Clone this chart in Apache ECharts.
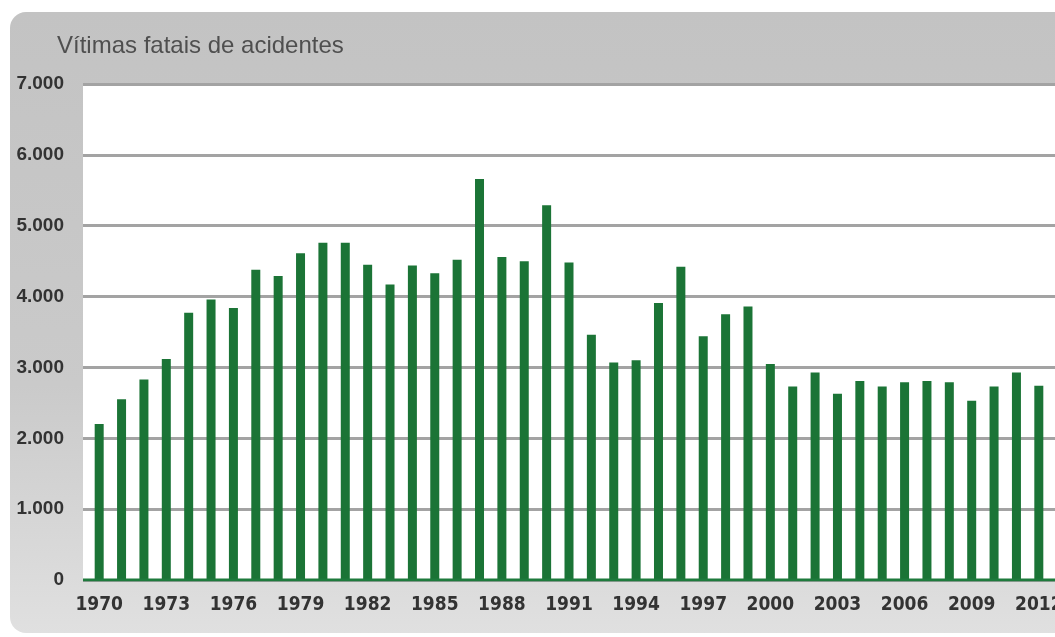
<!DOCTYPE html>
<html>
<head>
<meta charset="utf-8">
<script src="https://cdn.jsdelivr.net/npm/echarts@6/dist/echarts.min.js"></script>
<style>
html,body{margin:0;padding:0;background:#fff;}
#chart{width:1055px;height:637px;}
</style>
</head>
<body>
<div id="chart"></div>
<script>
const titleText = 'Vítimas fatais de acidentes';
const years = ['1970','1971','1972','1973','1974','1975','1976','1977','1978','1979',
  '1980','1981','1982','1983','1984','1985','1986','1987','1988','1989',
  '1990','1991','1992','1993','1994','1995','1996','1997','1998','1999',
  '2000','2001','2002','2003','2004','2005','2006','2007','2008','2009',
  '2010','2011','2012'];
const fatalities = [2200,2550,2830,3120,3770,3960,3840,4380,4290,4610,
  4760,4760,4450,4170,4440,4330,4520,5660,4560,4500,
  5290,4480,3460,3070,3100,3910,4420,3440,3750,3860,
  3050,2730,2930,2630,2810,2730,2790,2810,2790,2530,
  2730,2930,2740];
const yTicks = [0,1000,2000,3000,4000,5000,6000,7000];

const fmt = v => v === 0 ? '0' : (v/1000).toFixed(0) + '.000';

const chart = echarts.init(document.getElementById('chart'), null, {renderer:'canvas'});
chart.setOption({
  animation:false,
  backgroundColor:'#ffffff',
  graphic:[
    {type:'rect', z:-10, silent:true,
     shape:{x:10,y:12,width:1120,height:621,r:16},
     style:{fill:new echarts.graphic.LinearGradient(0,0,0,1,[
        {offset:0,color:'#c3c3c3'},{offset:0.6,color:'#cacaca'},{offset:1,color:'#e0e0e0'}])}},
    {type:'text', left:57, top:34, z:10,
     style:{text:titleText, fill:'#4f4f4f', font:'24px "Liberation Sans", Arial, sans-serif'}}
  ],
  grid:[
    {left:83, right:0, top:84, bottom:57, show:true, backgroundColor:'#ffffff', borderWidth:0,
     containLabel:false, outerBoundsMode:'none'},
    {left:88, right:5, top:84, bottom:57, containLabel:false, outerBoundsMode:'none'}
  ],
  xAxis:[
    {type:'value', gridIndex:0, show:false, min:0, max:1},
    {type:'category', gridIndex:1, data:years, boundaryGap:true,
     axisLine:{show:false}, axisTick:{show:false},
     axisLabel:{interval:2, margin:16, color:'#333', fontSize:19, fontWeight:'bold',
       hideOverlap:false, showMaxLabel:true,
       fontFamily:'"Liberation Sans Narrow","DejaVu Sans Condensed",sans-serif'}}
  ],
  yAxis:[
    {type:'value', gridIndex:0, min:yTicks[0], max:yTicks[yTicks.length-1], interval:1000,
     axisLine:{show:false}, axisTick:{show:false},
     splitLine:{show:true, lineStyle:{color:'#a3a3a3', width:3}},
     axisLabel:{margin:19, color:'#333', fontSize:19, fontWeight:'bold',
       fontFamily:'"Liberation Sans", Arial, sans-serif', formatter:fmt}},
    {type:'value', gridIndex:1, min:yTicks[0], max:yTicks[yTicks.length-1], interval:1000, show:false}
  ],
  series:[
    {type:'line', xAxisIndex:0, yAxisIndex:0, data:[[0,0],[1,0]], symbol:'none', silent:true,
     lineStyle:{color:'#1e7a3c', width:3}, z:5},
    {type:'bar', xAxisIndex:1, yAxisIndex:1, data:fatalities, barWidth:9,
     itemStyle:{color:'#1b7436'}, z:4}
  ]
});
</script>
</body>
</html>
